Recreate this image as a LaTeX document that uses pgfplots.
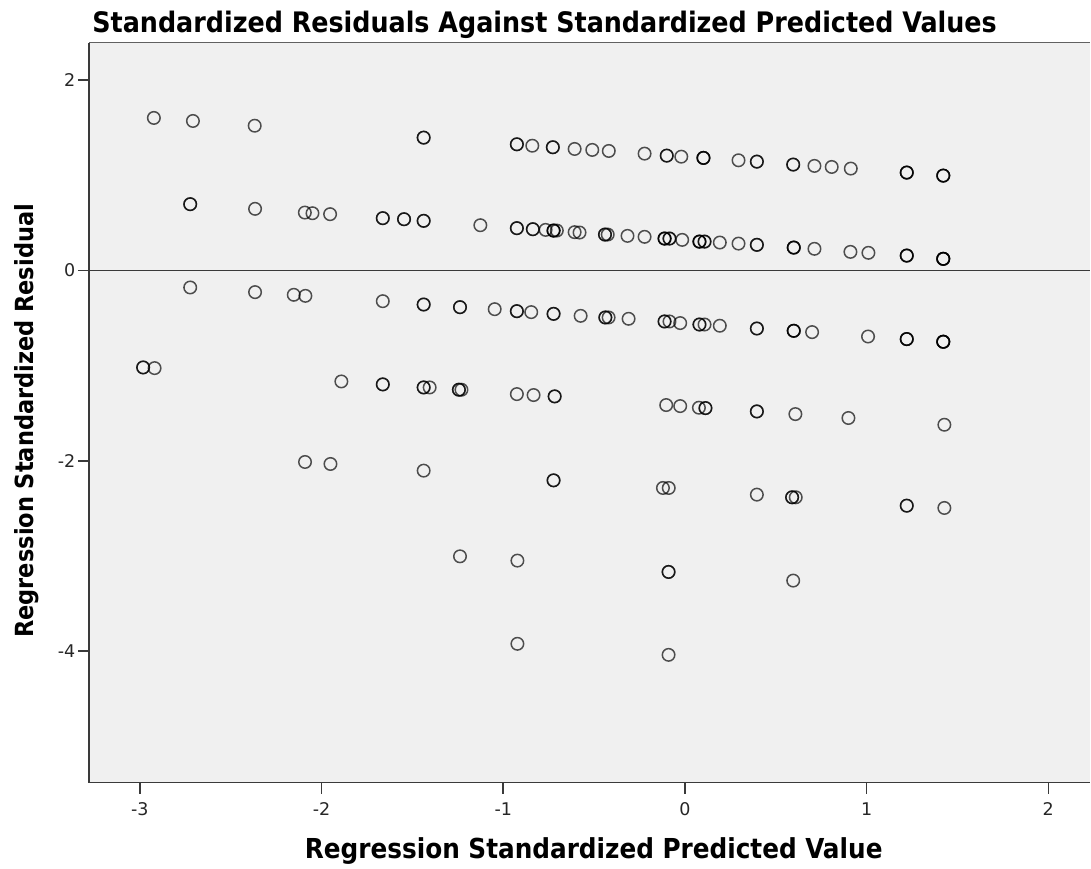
\documentclass[border=0pt]{standalone}
\usepackage{pgfplots}
\pgfplotsset{compat=1.18}
\usepackage{fontspec}
\setmainfont{DejaVu Sans}
\newfontfamily\condfont{DejaVu Sans Condensed}
\definecolor{plotbg}{HTML}{F0F0F0}
\definecolor{frame}{HTML}{3A3A3A}

\begin{document}
\begin{tikzpicture}
\begin{axis}[
    scale only axis,
    width=400.7pt, height=296.2pt,
    xmin=-3.279, xmax=2.231,
    ymin=-5.381, ymax=2.392,
    axis lines*=left,
    axis line style={-, frame, line width=0.6pt},
    axis background/.style={fill=plotbg},
    xtick={-3,-2,-1,0,1,2},
    ytick={-4,-2,0,2},
    tick align=outside,
    major tick length=4.5pt,
    tick style={frame, line width=0.6pt},
    /pgf/number format/assume math mode=true,
    tick label style={font=\fontsize{7}{8}\selectfont, text=black!85},
    yticklabel style={xshift=2.5pt},
    title={\textbf{Standardized Residuals Against Standardized Predicted Values}},
    % the default title style shifts up by 6pt; take that back
    title style={at={(axis description cs:0.0027,1.0144)}, anchor=base west,
        yshift=-6pt, font=\condfont\fontsize{11.3}{13}\selectfont, inner sep=0pt},
    xlabel={\textbf{Regression Standardized Predicted Value}},
    xlabel style={at={(axis description cs:0.504,-0.1026)}, anchor=base,
        font=\condfont\fontsize{11}{13}\selectfont, inner sep=0pt},
    ylabel={\textbf{Regression Standardized Residual}},
    ylabel style={at={(axis description cs:-0.056,0.489)}, anchor=base,
        font=\condfont\fontsize{10}{12}\selectfont, inner sep=0pt},
    clip=false,
]
% fixed margins round the plot area, as in the original
\path (axis description cs:0,0) ++(-35.7pt,-34.3pt) coordinate (bbsw);
\path (axis description cs:1,1) ++(0pt,17.1pt) coordinate (bbne);
\path (bbsw) rectangle (bbne);
% top frame line and zero reference line
\draw[frame!80, line width=0.6pt] (rel axis cs:0,1) -- (rel axis cs:1,1);
\draw[frame, line width=0.6pt] (axis cs:-3.279,0) -- (axis cs:2.231,0);

\addplot[only marks, mark=o, mark size=2.5pt,
    mark options={draw=black, draw opacity=0.68, line width=0.6pt}]
table[row sep=\\] {
x y \\
-2.923 1.602 \\ -2.708 1.570 \\ -2.368 1.520 \\ -1.438 1.395 \\ -1.438 1.395 \\
-0.925 1.325 \\ -0.925 1.325 \\ -0.840 1.310 \\ -0.727 1.294 \\ -0.727 1.294 \\
-0.607 1.276 \\ -0.510 1.266 \\ -0.419 1.255 \\ -0.222 1.227 \\
-0.100 1.206 \\ -0.100 1.206 \\ -0.020 1.195 \\
0.102 1.182 \\ 0.102 1.182 \\ 0.102 1.182 \\ 0.295 1.157 \\
0.396 1.143 \\ 0.396 1.143 \\ 0.596 1.112 \\ 0.596 1.112 \\
0.713 1.098 \\ 0.808 1.087 \\ 0.913 1.070 \\
1.221 1.028 \\ 1.221 1.028 \\ 1.221 1.028 \\
1.422 0.996 \\ 1.422 0.996 \\ 1.422 0.996 \\
-2.723 0.696 \\ -2.723 0.696 \\ -2.366 0.647 \\ -2.092 0.608 \\ -2.050 0.601 \\
-1.953 0.591 \\ -1.663 0.549 \\ -1.663 0.549 \\ -1.546 0.538 \\ -1.546 0.538 \\
-1.438 0.521 \\ -1.438 0.521 \\ -1.126 0.475 \\
-0.925 0.444 \\ -0.925 0.444 \\ -0.837 0.433 \\ -0.837 0.433 \\ -0.767 0.426 \\
-0.723 0.419 \\ -0.723 0.419 \\ -0.723 0.419 \\ -0.705 0.419 \\
-0.607 0.402 \\ -0.580 0.398 \\ -0.440 0.377 \\ -0.440 0.377 \\ -0.425 0.377 \\
-0.316 0.363 \\ -0.222 0.353 \\
-0.112 0.335 \\ -0.112 0.335 \\ -0.112 0.335 \\ -0.085 0.335 \\ -0.085 0.335 \\
-0.015 0.321 \\ 0.080 0.303 \\ 0.080 0.303 \\ 0.080 0.303 \\ 0.108 0.303 \\ 0.108 0.303 \\
0.192 0.293 \\ 0.295 0.282 \\ 0.396 0.269 \\ 0.396 0.269 \\
0.599 0.240 \\ 0.599 0.240 \\ 0.599 0.240 \\ 0.713 0.227 \\ 0.911 0.195 \\ 1.010 0.185 \\
1.221 0.156 \\ 1.221 0.156 \\ 1.221 0.156 \\
1.422 0.122 \\ 1.422 0.122 \\ 1.422 0.122 \\ 1.422 0.122 \\
-2.723 -0.179 \\ -2.366 -0.228 \\ -2.153 -0.256 \\ -2.089 -0.267 \\ -1.663 -0.323 \\
-1.438 -0.358 \\ -1.438 -0.358 \\ -1.238 -0.386 \\ -1.238 -0.386 \\ -1.047 -0.407 \\
-0.925 -0.428 \\ -0.925 -0.428 \\ -0.846 -0.438 \\ -0.723 -0.456 \\ -0.723 -0.456 \\
-0.574 -0.477 \\ -0.438 -0.494 \\ -0.438 -0.494 \\ -0.420 -0.494 \\ -0.310 -0.508 \\
-0.112 -0.536 \\ -0.112 -0.536 \\ -0.085 -0.536 \\ -0.026 -0.553 \\
0.080 -0.568 \\ 0.080 -0.568 \\ 0.108 -0.568 \\ 0.192 -0.581 \\
0.396 -0.610 \\ 0.396 -0.610 \\ 0.599 -0.634 \\ 0.599 -0.634 \\ 0.599 -0.634 \\
0.700 -0.648 \\ 1.008 -0.694 \\
1.221 -0.721 \\ 1.221 -0.721 \\ 1.221 -0.721 \\
1.422 -0.749 \\ 1.422 -0.749 \\ 1.422 -0.749 \\ 1.422 -0.749 \\
-2.982 -1.019 \\ -2.982 -1.019 \\ -2.919 -1.026 \\ -1.891 -1.166 \\
-1.663 -1.197 \\ -1.663 -1.197 \\ -1.438 -1.229 \\ -1.438 -1.229 \\ -1.405 -1.229 \\
-1.244 -1.253 \\ -1.244 -1.253 \\ -1.230 -1.253 \\ -0.925 -1.299 \\ -0.833 -1.309 \\
-0.717 -1.323 \\ -0.717 -1.323 \\ -0.103 -1.414 \\ -0.026 -1.425 \\
0.077 -1.442 \\ 0.113 -1.446 \\ 0.113 -1.446 \\ 0.396 -1.481 \\ 0.396 -1.481 \\
0.608 -1.509 \\ 0.900 -1.550 \\ 1.428 -1.621 \\
-2.091 -2.012 \\ -1.951 -2.033 \\ -1.438 -2.103 \\ -0.723 -2.205 \\ -0.723 -2.205 \\
-0.121 -2.285 \\ -0.089 -2.285 \\ 0.396 -2.355 \\ 0.590 -2.383 \\ 0.590 -2.383 \\
0.610 -2.383 \\ 1.221 -2.471 \\ 1.221 -2.471 \\ 1.428 -2.495 \\
-1.238 -3.003 \\ -0.922 -3.048 \\ -0.090 -3.167 \\ -0.090 -3.167 \\ 0.596 -3.258 \\
-0.922 -3.922 \\ -0.090 -4.038 \\
};
\end{axis}
\end{tikzpicture}
\end{document}
